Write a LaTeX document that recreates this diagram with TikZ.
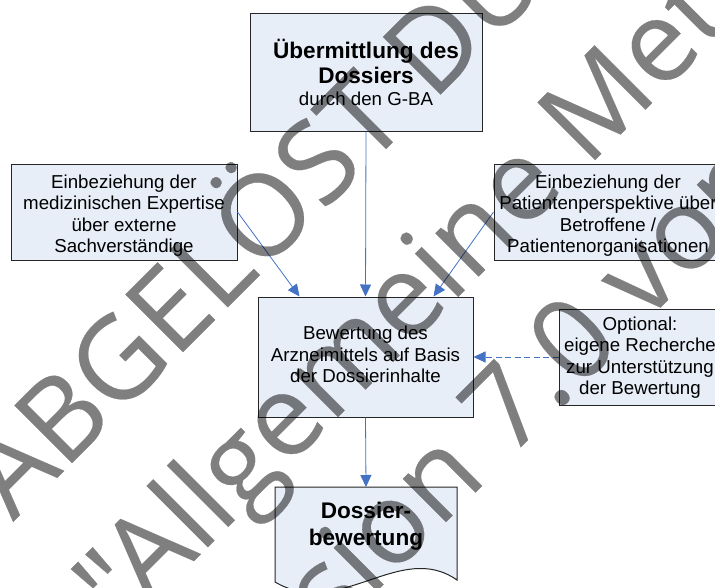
\documentclass[tikz,border=0pt]{standalone}
\usepackage{fontspec}
\setmainfont{Liberation Sans}
\newfontfamily\wmfont{Open Sans}[FakeBold=0.2]
\usetikzlibrary{arrows.meta,calc}
\definecolor{boxfill}{HTML}{E8EEF8}
\definecolor{arrowblue}{HTML}{4472C4}
\newcommand\titlefont{\fontsize{22.6}{27}\selectfont\bfseries}
\newcommand\subfont{\fontsize{18.7}{23}\selectfont\mdseries}
\newcommand\boxtext[2]{\raisebox{0pt}[\dimexpr\height+#1\relax][\depth]{%
  \begin{tabular}{@{}c@{}}#2\end{tabular}}}
\begin{document}
\begin{tikzpicture}[x=1pt,y=-1pt,
  box/.style={draw=black!85, line width=1pt, fill=boxfill, inner sep=0pt,
    font=\fontsize{18.7}{21.5}\selectfont},
  arr/.style={draw=arrowblue, line width=0.8pt, -{Triangle[length=12pt,width=11pt]}},
  dasharr/.style={arr, dash pattern=on 6pt off 3.5pt},
  bigtxt/.style={align=center, inner sep=0pt, font=\titlefont},
  wm/.style={text=black, font=\wmfont\fontsize{114}{160}\selectfont,
    rotate=45, anchor=base west, inner sep=0pt}]
\useasboundingbox (0,0) rectangle (715,587);
\fill[white] (0,0) rectangle (715,587);
% boxes
\node[box, align=center, minimum width=232pt, minimum height=118pt] (tbox) at (366,72)
  {\titlefont Übermittlung des\\[4pt]\titlefont Dossiers\\\subfont durch den G-BA};
\node[box, minimum width=226pt, minimum height=96pt] (lbox) at (124,212)
  {\boxtext{8pt}{Einbeziehung der\\medizinischen Expertise\\über externe\\Sachverständige}};
\node[box, minimum width=228pt, minimum height=96pt] (rbox) at (608,212)
  {\boxtext{8pt}{Einbeziehung der\\Patientenperspektive über\\Betroffene /\\Patientenorganisationen}};
\node[box, minimum width=215pt, minimum height=120pt] (mbox) at (365.5,357)
  {\boxtext{0pt}{Bewertung des\\Arzneimittels auf Basis\\der Dossierinhalte}};
\node[box, minimum width=162pt, minimum height=96pt] (obox) at (640,357)
  {\boxtext{2pt}{Optional:\\eigene Recherche\\zur Unterstützung\\der Bewertung}};
% document shape
\path[draw=black!85, line width=1pt, fill=boxfill]
  (275,487) -- (457,487) -- (457,580) .. controls (400,540) and (340,620) .. (275,582) -- cycle;
\coordinate (doctop) at (366,487);
\node[bigtxt] (doc) at (366,526.5) {Dossier-\\bewertung};
% connectors
\draw[arr] (tbox.south) -- (mbox.north);
\draw[arr] (lbox.east) -- ([xshift=42pt]mbox.north west);
\draw[arr] (rbox.west) -- ([xshift=-40pt]mbox.north east);
\draw[dasharr] (obox.west) -- (mbox.east);
\draw[arr] (mbox.south) -- (doctop);
% watermark
\begin{scope}[transparency group, opacity=0.5]
\node[wm] (wm1) at (13,522) {ABGELÖST DURCH};
\node[wm] (wm2) at (123,632) {"Allgemeine Methoden};
\node[wm] (wm3) at (207,761) {Version 7.0 vom};
\end{scope}
\end{tikzpicture}
\end{document}
